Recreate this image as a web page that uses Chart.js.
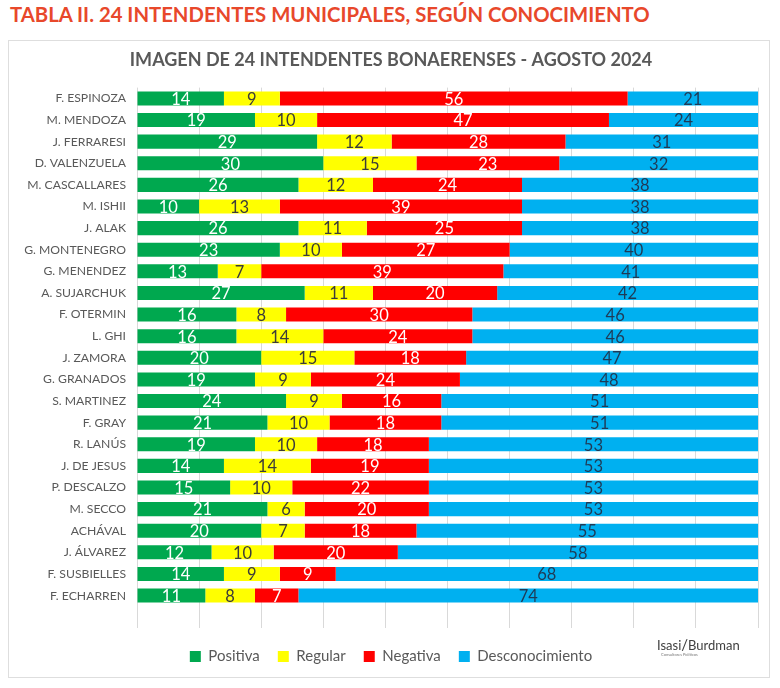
<!DOCTYPE html>
<html>
<head>
<meta charset="utf-8">
<script src="https://cdn.jsdelivr.net/npm/chart.js@4.4.1/dist/chart.umd.min.js"></script>
<style>
  html, body { margin: 0; padding: 0; background: #ffffff; }
  body { width: 780px; height: 688px; position: relative; overflow: hidden; font-family: Lato, "Open Sans", sans-serif; }
  #title { position: absolute; left: 10px; top: 2px; color: #E8482B; font-weight: 700; font-size: 20px; white-space: nowrap; letter-spacing: 0px; }
  #card { position: absolute; left: 8px; top: 40px; width: 760px; height: 636px; border: 1px solid #dedede; background: #fff; }
  #wrap { position: absolute; left: 0; top: 0; width: 780px; height: 688px; }
  #logo { position: absolute; left: 657px; top: 635px; color: #404040; font-size: 13px; white-space: nowrap; }
  #logo small { display: block; font-size: 4px; color: #777; margin-left: 4px; margin-top: -1px; }
</style>
</head>
<body>
<div id="card"></div>
<div id="title">TABLA II. 24 INTENDENTES MUNICIPALES, SEGÚN CONOCIMIENTO</div>
<div id="wrap"><canvas id="c" width="780" height="688"></canvas></div>
<div id="logo">Isasi<span style="font-size:15px">/</span>Burdman<small>Consultores Políticos</small></div>
<script>
const categories = ["F. ESPINOZA","M. MENDOZA","J. FERRARESI","D. VALENZUELA","M. CASCALLARES","M. ISHII","J. ALAK","G. MONTENEGRO","G. MENENDEZ","A. SUJARCHUK","F. OTERMIN","L. GHI","J. ZAMORA","G. GRANADOS","S. MARTINEZ","F. GRAY","R. LANÚS","J. DE JESUS","P. DESCALZO","M. SECCO","ACHÁVAL","J. ÁLVAREZ","F. SUSBIELLES","F. ECHARREN"];
const positiva = [14,19,29,30,26,10,26,23,13,27,16,16,20,19,24,21,19,14,15,21,20,12,14,11];
const regular = [9,10,12,15,12,13,11,10,7,11,8,14,15,9,9,10,10,14,10,6,7,10,9,8];
const negativa = [56,47,28,23,24,39,25,27,39,20,30,24,18,24,16,18,18,19,22,20,18,20,9,7];
const desconocimiento = [21,24,31,32,38,38,38,40,41,42,46,46,47,48,51,51,53,53,53,53,55,58,68,74];
const seriesNames = ["Positiva","Regular","Negativa","Desconocimiento"];
const xTicks = [0,10,20,30,40,50,60,70,80,90,100];

// fit outer title width
(function(){
  const t = document.getElementById('title');
  const target = 640;
  const w = t.getBoundingClientRect().width;
  t.style.fontSize = (20 * target / w).toFixed(2) + 'px';
})();

const FONT = 'Lato, "Open Sans", sans-serif';
const labelsWithGap = categories.concat([""]);
const pad = arr => arr.concat([null]);

const colors = ["#00A84F","#FFFF00","#FF0000","#00B0F0"];
const labelColors = ["#ffffff","#3b3b3b","#ffffff","#1f3a56"];

const dataLabelPlugin = {
  id: 'dataLabels',
  afterDatasetsDraw(chart) {
    const ctx = chart.ctx;
    ctx.save();
    ctx.font = '16.5px ' + FONT;
    ctx.textAlign = 'center';
    ctx.textBaseline = 'middle';
    chart.data.datasets.forEach((ds, di) => {
      const meta = chart.getDatasetMeta(di);
      meta.data.forEach((el, i) => {
        const v = ds.data[i];
        if (v == null) return;
        const cx = (el.x + el.base) / 2;
        ctx.fillStyle = labelColors[di];
        ctx.fillText(String(v), cx, el.y + 1);
      });
    });
    ctx.restore();
  }
};

new Chart(document.getElementById('c'), {
  type: 'bar',
  data: {
    labels: labelsWithGap,
    datasets: [
      { label: seriesNames[0], data: pad(positiva), backgroundColor: colors[0] },
      { label: seriesNames[1], data: pad(regular), backgroundColor: colors[1] },
      { label: seriesNames[2], data: pad(negativa), backgroundColor: colors[2] },
      { label: seriesNames[3], data: pad(desconocimiento), backgroundColor: colors[3] }
    ]
  },
  options: {
    indexAxis: 'y',
    responsive: false,
    animation: false,
    devicePixelRatio: 1,
    barPercentage: 0.65,
    categoryPercentage: 1.0,
    layout: { padding: { left: 24, right: 22, top: 49, bottom: 14 } },
    scales: {
      x: {
        stacked: true,
        min: 0, max: 100,
        afterBuildTicks: s => { s.ticks = xTicks.map(v => ({ value: v })); },
        afterFit: s => { s.height = 3; },
        ticks: { display: false },
        grid: { color: '#d9d9d9', drawTicks: false, lineWidth: 1 },
        border: { display: false }
      },
      y: {
        stacked: true,
        afterFit: s => { s.width = 113; },
        ticks: { color: '#595959', font: { family: FONT, size: 12.2 }, padding: 11, autoSkip: false },
        grid: { display: false, drawTicks: false },
        border: { display: false }
      }
    },
    plugins: {
      title: {
        display: true,
        text: 'IMAGEN DE 24 INTENDENTES BONAERENSES - AGOSTO 2024',
        color: '#595959',
        font: { family: FONT, size: 18, weight: 'bold' },
        padding: { top: 0, bottom: 17 }
      },
      legend: {
        position: 'bottom',
        labels: {
          color: '#595959',
          font: { family: FONT, size: 15 },
          boxWidth: 11, boxHeight: 11, padding: 18
        }
      },
      tooltip: { enabled: false }
    }
  },
  plugins: [dataLabelPlugin]
});
</script>
</body>
</html>
